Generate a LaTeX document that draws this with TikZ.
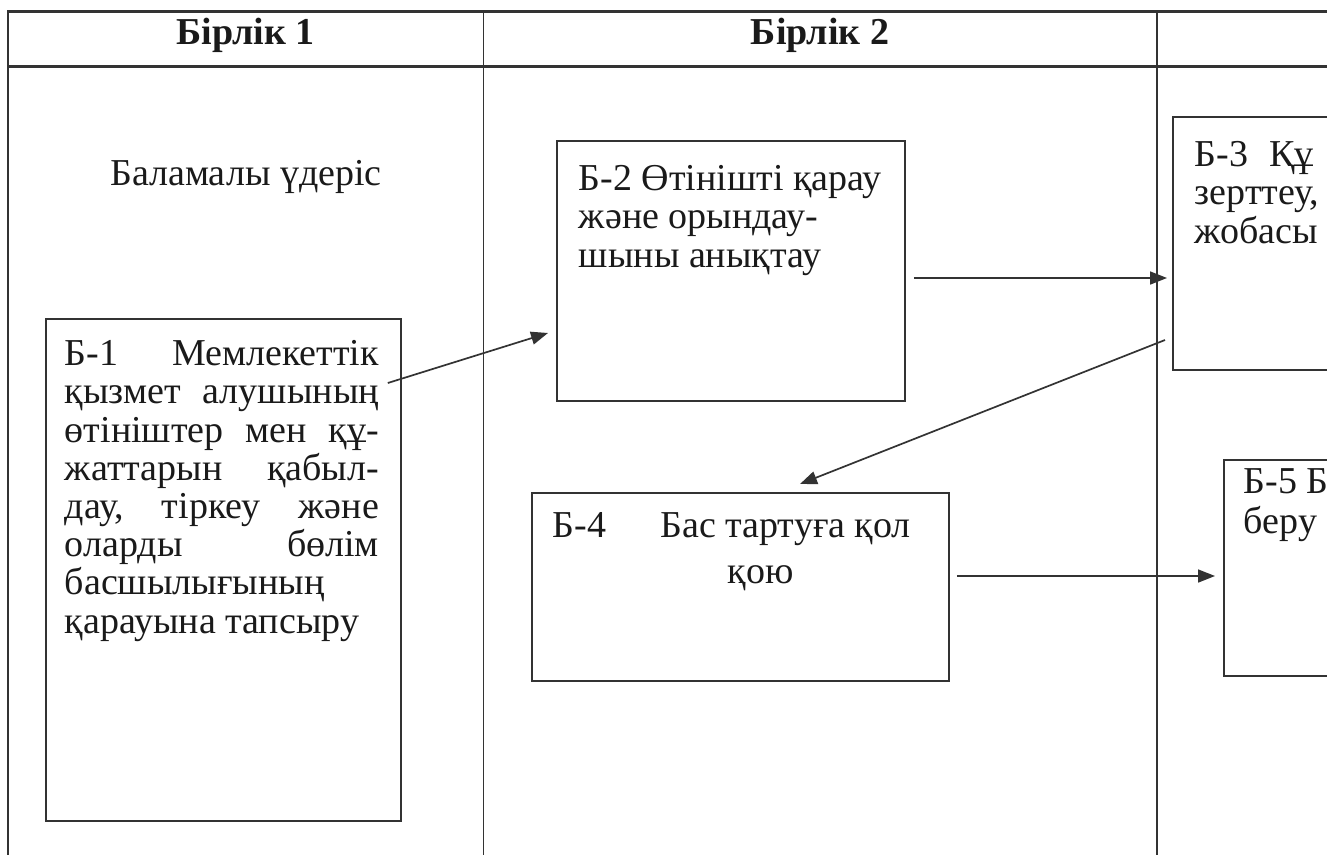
\documentclass[tikz,border=0pt]{standalone}
\usepackage{fontspec}
\setmainfont{Liberation Serif}
\usetikzlibrary{arrows.meta,calc}

\definecolor{linegray}{HTML}{333333}
\definecolor{inkblack}{HTML}{1A1A1A}

% box body: width, height, left pad, top pad, text width, text
\newcommand{\stepbody}[6]{%
  \makebox[#1][l]{\hspace*{#3}\parbox[c][#2][t]{#5}{\vspace*{#4}\strut #6}}}

\tikzset{
  stepbox/.style={draw=linegray, line width=1.8pt, rectangle, anchor=north west,
    inner sep=0pt, text=inkblack, font=\fontsize{38}{38.2}\selectfont},
  lanehead/.style={text=inkblack, font=\fontsize{38}{39}\selectfont\bfseries},
  lanenote/.style={text=inkblack, font=\fontsize{38}{39}\selectfont},
  flow/.style={draw=linegray, line width=1.7pt, -{Triangle[length=17pt,width=13pt]}},
  laneline/.style={draw=linegray, line width=1.8pt},
  headline/.style={draw=linegray, line width=3pt}
}

\begin{document}
\begin{tikzpicture}[x=1pt, y=-1pt]
   \useasboundingbox (0,0) rectangle (1327,854);
   \clip (0,0) rectangle (1327,854);

   % table frame
   \draw[headline] (8,11) -- (1340,11);
   \draw[headline] (8,66.5) -- (1340,66.5);
   \draw[laneline] (8,10) -- (8,860);
   \draw[laneline] (483.5,10) -- (483.5,860);
   \draw[laneline] (1157,10) -- (1157,860);

   \node[lanehead] (h1) at (245.5,35) {Бірлік 1};
   \node[lanehead] (h2) at (820,35) {Бірлік 2};
   \node[lanenote] (alt) at (246,177) {Баламалы үдеріс};

   \node[stepbox] (b1) at (45,318) {\stepbody{355pt}{502pt}{19pt}{20pt}{314pt}{%
     Б-1\hfill Мемлекеттік\\
     қызмет\hfill алушының\\
     өтініштер\hfill мен\hfill құ-\\
     жаттарын\hfill қабыл-\\
     дау,\hfill тіркеу\hfill және\\
     оларды\hfill бөлім\\
     басшылығының\\
     қарауына тапсыру}};
   \node[stepbox] (b2) at (556,140) {\stepbody{348pt}{260pt}{22pt}{23pt}{320pt}{%
     Б-2 Өтінішті қарау\\
     және орындау-\\
     шыны анықтау}};
   \node[stepbox] (b3) at (1172,116) {\stepbody{400pt}{253pt}{22pt}{23pt}{360pt}{%
     Б-3\hspace{0.55em}Құ\\
     зерттеу,\\
     жобасы}};
   \node[stepbox] (b4) at (531,492) {\stepbody{417pt}{188pt}{21pt}{18pt}{375pt}{%
     \makebox[358pt][s]{Б-4\hfill Бас тартуға қол}\\[8pt]
     \makebox[358pt]{\hspace{58pt}қою}}};
   \node[stepbox] (b5) at (1223,459) {\stepbody{300pt}{216pt}{20pt}{7pt}{260pt}{%
     Б-5 Б\\
     беру}};

   \coordinate (a1s) at ($(b1.north east)+(-14,65)$);
   \coordinate (a1e) at ($(b2.north west)+(-8,193)$);
   \coordinate (a2s) at ($(b2.north east)+(8,138)$);
   \coordinate (a2e) at ($(b3.north west)+(-5,162)$);
   \coordinate (a3s) at ($(b3.north west)+(-7,224)$);
   \coordinate (a3e) at ($(b4.north west)+(269,-8)$);
   \coordinate (a4s) at ($(b4.north east)+(7,84)$);
   \coordinate (a4e) at ($(b5.north west)+(-8,117)$);

   \draw[flow] (a1s) -- (a1e);
   \draw[flow] (a2s) -- (a2e);
   \draw[flow] (a3s) -- (a3e);
   \draw[flow] (a4s) -- (a4e);
\end{tikzpicture}
\end{document}
